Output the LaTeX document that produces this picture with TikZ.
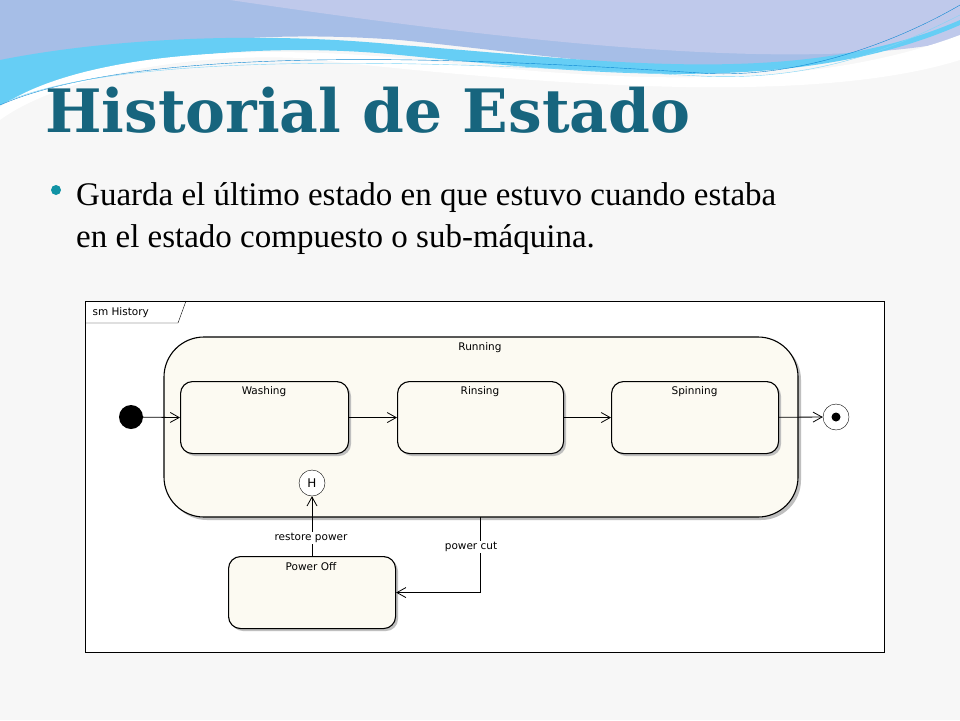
\documentclass[tikz,border=0pt]{standalone}
\usepackage{fontspec}
\setmainfont{Liberation Serif}
\newfontfamily\titlefont{DejaVu Serif}
\newfontfamily\uifont{DejaVu Sans}
\usetikzlibrary{arrows.meta}
\definecolor{teal1}{HTML}{17657E}
\definecolor{cream}{HTML}{FCFAF2}
\tikzset{
 st/.style={draw,line width=1.1pt,rounded corners=12pt,fill=cream},
 lbl/.style={font=\uifont\fontsize{10.5}{12}\selectfont},
 tr/.style={line width=0.8pt,-{Straight Barb[length=9pt,width=10pt]}},
 body/.style={anchor=base west,inner sep=0,font=\fontsize{33}{40}\selectfont},
}
\begin{document}
\begin{tikzpicture}[x=1pt,y=-1pt]
\useasboundingbox (0,0) rectangle (960,720);
\fill[gray!6] (0,0) rectangle (960,720);
% waves
\fill[cyan!50!blue!35] (0,0) -- (960,0) -- (960,20) .. controls (800,100) and (600,60) .. (400,40) .. controls (200,25) and (60,60) .. (0,100) -- cycle;
\fill[cyan!40!blue!25] (230,0) -- (960,0) -- (960,40) .. controls (800,75) and (500,40) .. (230,0);
\fill[cyan!60] (0,60) .. controls (100,40) and (250,30) .. (400,45) .. controls (600,60) and (800,90) .. (960,20) -- (960,25) .. controls (800,95) and (600,75) .. (400,55) .. controls (250,40) and (90,60) .. (0,105) -- cycle;
\fill[white] (0,107) .. controls (60,65) and (200,40) .. (400,58) .. controls (600,80) and (800,95) .. (960,35) -- (960,60) .. controls (800,110) and (500,80) .. (300,58) .. controls (150,52) and (40,90) .. (0,120) -- cycle;
\draw[cyan!70!blue,thin] (0,105) .. controls (150,40) and (500,60) .. (700,73) .. controls (800,80) and (900,40) .. (960,5);
\draw[cyan!50,thin] (10,100) .. controls (150,45) and (500,65) .. (700,76) .. controls (820,82) and (900,45) .. (960,15);
% title
\node[anchor=base west,inner sep=0,text=teal1] (title) at (45,132) {\resizebox{645pt}{!}{\titlefont\bfseries Historial de Estado}};
\fill[teal1!70!cyan] (56,190) circle (5);
\node[body] (txt1) at (76,205) {Guarda el último estado en que estuvo cuando estaba};
\node[body] (txt2) at (76,247) {en el estado compuesto o sub-máquina.};
% frame
\draw[fill=white] (85,301) rectangle (884,652);
\draw (85,323) -- (178,323) -- (186,301);
\node[lbl,anchor=west] (sm) at (89,313) {sm History};
% Running
\fill[gray!50,rounded corners=40pt] (167,340) rectangle (801,520);
\draw[line width=1.1pt,fill=cream,rounded corners=40pt] (164,337) rectangle (798,517);
\node[lbl] (runlbl) at (480,348) {Running};
\foreach \n/\a/\b/\t in {w/180/348/Washing,r/397/563/Rinsing,s/611/778/Spinning}{
 \fill[gray!50,rounded corners=12pt] (\a+3,384) rectangle (\b+3,456);
 \node[st,minimum width={\b-\a},minimum height=72,anchor=north west] (\n) at (\a,381) {};
 \node[lbl] at ({(\a+\b)/2},392) {\t};
}
\fill[gray!50,rounded corners=12pt] (231,559) rectangle (398,631);
\node[st,minimum width=167,minimum height=72,anchor=north west] (p) at (228,556) {};
\node[lbl] at (311,567) {Power Off};
\fill (131,417) circle (12) coordinate (init);
\node[circle,draw,fill=white,minimum size=26,inner sep=0] (fin) at (836,417) {};
\fill (836,417) circle (4.5);
\node[circle,draw,fill=white,minimum size=26,inner sep=0,font=\uifont\fontsize{12}{12}\selectfont] (h) at (312,483) {H};
\draw[tr] (init) -- (w.west);
\draw[tr] (w) -- (r);
\draw[tr] (r) -- (s);
\draw[tr] (s) -- (fin);
\coordinate (pc) at (480,517);
\draw[tr] (pc) |- (p.east);
\node[lbl,fill=white,inner sep=1pt] at (471,547) {power cut};
\draw[tr] (p.north -| h) -- (h);
\node[lbl,fill=white,inner sep=1pt] at (311,538) {restore power};
\end{tikzpicture}
\end{document}
